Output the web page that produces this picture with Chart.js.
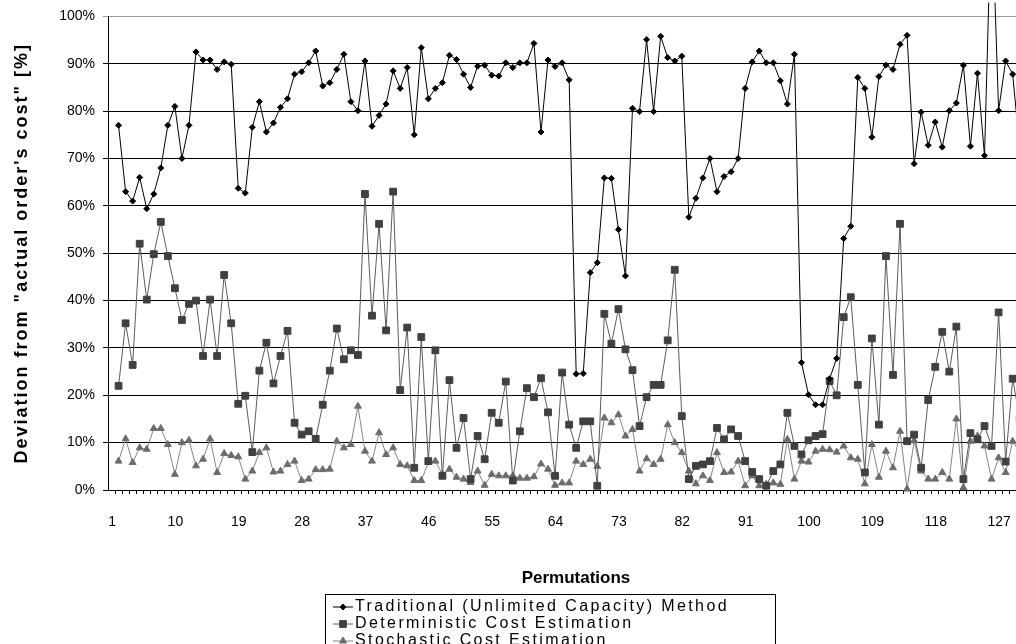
<!DOCTYPE html>
<html>
<head>
<meta charset="utf-8">
<title>Deviation from actual order's cost</title>
<script src="https://cdn.jsdelivr.net/npm/chart.js@4.4.1/dist/chart.umd.min.js"></script>
<style>
  html, body { margin: 0; padding: 0; background: #fff; overflow: hidden; width: 1016px; height: 644px; }
  #chart { display: block; }
</style>
</head>
<body>
<!-- the plot runs on past the right edge of the page -->
<canvas id="chart" width="1022" height="644"></canvas>
<script>
// permutation number of every point
const permutations = Array.from({ length: 129 }, (_, i) => i + 1);
const xTickLabels = [1, 10, 19, 28, 37, 46, 55, 64, 73, 82, 91, 100, 109, 118, 127];
const yTickValues = [0, 10, 20, 30, 40, 50, 60, 70, 80, 90, 100];

const seriesNames = [
  'Traditional (Unlimited Capacity) Method',
  'Deterministic Cost Estimation',
  'Stochastic Cost Estimation'
];

// deviation in % per permutation
const traditional = [
  77, 63, 61, 66, 59.4, 62.5, 68, 77, 81, 70,
  77, 92.5, 90.8, 90.8, 88.8, 90.4, 89.9, 63.7, 62.7, 76.6,
  82, 75.6, 77.5, 80.8, 82.6, 87.8, 88.3, 90.2, 92.7, 85.3,
  86, 88.8, 92, 82, 80.1, 90.6, 76.8, 79.1, 81.5, 88.5,
  84.8, 89.2, 75, 93.4, 82.6, 84.8, 86, 91.8, 90.9, 87.8,
  85, 89.5, 89.7, 87.6, 87.4, 90.2, 89.2, 90.2, 90.2, 94.3,
  75.6, 90.8, 89.4, 90.2, 86.6, 24.5, 24.6, 45.9, 48, 65.9,
  65.8, 55, 45.2, 80.6, 79.9, 95.1, 79.9, 95.8, 91.3, 90.6,
  91.6, 57.6, 61.6, 65.9, 70, 63, 66.2, 67.2, 70, 84.8,
  90.4, 92.7, 90.2, 90.2, 86.4, 81.5, 92, 26.9, 20.1, 18,
  18, 23.5, 27.8, 53.1, 55.7, 87.1, 84.8, 74.5, 87.3, 89.7,
  88.8, 94.1, 96, 68.9, 79.8, 72.8, 77.7, 72.4, 80.1, 81.7,
  89.7, 72.6, 88, 70.6, 125, 80.1, 90.6, 87.8, 72
];

const deterministic = [
  22, 35.2, 26.4, 52, 40.2, 49.8, 56.6, 49.4, 42.6, 35.9,
  39.3, 40, 28.3, 40.2, 28.3, 45.4, 35.2, 18.2, 19.9, 8,
  25.2, 31.1, 22.5, 28.3, 33.6, 14.2, 11.7, 12.4, 10.8, 18,
  25.2, 34.1, 27.6, 29.5, 28.5, 62.5, 36.8, 56.2, 33.7, 63,
  21.1, 34.3, 4.7, 32.3, 6.1, 29.5, 3, 23.2, 8.9, 15.2,
  2.3, 11.4, 6.5, 16.3, 14.2, 22.9, 2, 12.4, 21.5, 19.6,
  23.6, 16.4, 3, 24.8, 13.8, 8.9, 14.5, 14.5, 0.9, 37.2,
  30.9, 38.2, 29.7, 25.3, 13.5, 19.6, 22.2, 22.2, 31.6, 46.5,
  15.6, 2.3, 5.1, 5.4, 6.1, 13.1, 10.7, 12.8, 11.4, 6.1,
  3.8, 2.3, 0.9, 4, 5.4, 16.3, 9.3, 7.5, 10.5, 11.4,
  11.8, 23, 20, 36.5, 40.7, 22.2, 3.7, 32, 13.8, 49.4,
  24.3, 56.2, 10.3, 11.7, 4.7, 19, 26, 33.4, 25, 34.5,
  2.3, 12, 10.7, 13.5, 9.3, 37.5, 6, 23.5, 15
];

const stochastic = [
  6.1, 10.8, 5.8, 8.9, 8.6, 13, 13, 9.6, 3.3, 10,
  10.5, 5.1, 6.5, 10.8, 3.7, 7.7, 7.3, 7, 2.3, 4,
  7.9, 8.9, 3.8, 4, 5.4, 6.1, 2, 2.3, 4.3, 4.3,
  4.4, 10.3, 8.9, 9.6, 17.7, 8.2, 6.1, 12.1, 7.5, 8.9,
  5.4, 5.1, 2, 2, 5.8, 6.1, 3.3, 4.4, 2.7, 2.3,
  1.6, 4, 1, 3.3, 3, 3, 3, 2.5, 2.5, 2.8,
  5.5, 4.4, 1, 1.5, 1.5, 6.1, 5.4, 6.5, 5, 15.2,
  14.2, 15.9, 11.4, 12.8, 4, 6.6, 5.4, 6.5, 13.8, 10,
  7.9, 4, 1.3, 3, 2, 7.9, 3.7, 3.8, 6.1, 0.9,
  3, 0.9, 1.2, 1.5, 1.2, 10.7, 2.3, 6.1, 5.9, 8.2,
  8.6, 8.5, 8, 9.3, 6.8, 6.5, 1.3, 9.6, 2.7, 8.2,
  4.7, 12.4, 0.2, 10.4, 4, 2.3, 2.3, 3.7, 2.3, 15,
  0.5, 10.3, 11.4, 9.3, 2.3, 6.8, 3.7, 10.3, 8
];

const xTitle = 'Permutations';
const yTitle = 'Deviation from "actual order\'s cost" [%]';

const FONT = '"Liberation Sans", Arial, sans-serif';
Chart.defaults.font.family = FONT;
Chart.defaults.color = '#000';

function points(values) {
  return values.map((v, i) => ({ x: permutations[i], y: v }));
}

// axis titles and the boxed legend under the plot
const titlesAndLegend = {
  id: 'titlesAndLegend',
  afterDraw(chart) {
    const { ctx, chartArea } = chart;
    ctx.save();
    ctx.fillStyle = '#000';
    ctx.textBaseline = 'middle';
    ctx.textAlign = 'center';

    ctx.font = 'bold 17px ' + FONT;
    ctx.letterSpacing = '0px';
    ctx.fillText(xTitle, 576, 578);

    ctx.save();
    ctx.translate(22, (chartArea.top + chartArea.bottom) / 2);
    ctx.rotate(-Math.PI / 2);
    ctx.font = 'bold 18px ' + FONT;
    ctx.letterSpacing = '2px';
    ctx.fillText(yTitle, 0, 0);
    ctx.restore();

    ctx.strokeStyle = '#000';
    ctx.lineWidth = 1;
    ctx.strokeRect(325.5, 594.5, 450, 70);

    ctx.font = '16px ' + FONT;
    ctx.letterSpacing = '2.4px';
    ctx.textAlign = 'left';
    chart.data.datasets.forEach((ds, i) => {
      const y = 607 + i * 17;
      ctx.strokeStyle = ds.borderColor;
      ctx.lineWidth = 1;
      ctx.beginPath();
      ctx.moveTo(333, y);
      ctx.lineTo(353, y);
      ctx.stroke();
      ctx.fillStyle = ds.pointBackgroundColor;
      ctx.strokeStyle = ds.pointBorderColor;
      Chart.helpers.drawPoint(ctx, {
        pointStyle: ds.pointStyle,
        radius: ds.pointRadius,
        borderWidth: ds.pointBorderWidth,
        rotation: 0
      }, 343, y);
      ctx.fillStyle = '#000';
      ctx.fillText(ds.label, 355, y);
    });
    ctx.restore();
  }
};

const lineClip = { left: 0, top: 14, right: 0, bottom: 6 };

new Chart(document.getElementById('chart'), {
  type: 'line',
  data: {
    datasets: [
      {
        label: seriesNames[0],
        data: points(traditional),
        borderColor: '#000000',
        borderWidth: 1,
        pointStyle: 'rectRot',
        pointRadius: 3,
        pointBorderWidth: 1,
        pointBackgroundColor: '#000000',
        pointBorderColor: '#000000',
        tension: 0,
        clip: lineClip
      },
      {
        label: seriesNames[1],
        data: points(deterministic),
        borderColor: '#5c5c5c',
        borderWidth: 1,
        pointStyle: 'rect',
        pointRadius: 4.8,
        pointBorderWidth: 1,
        pointBackgroundColor: '#404040',
        pointBorderColor: '#404040',
        tension: 0,
        clip: lineClip
      },
      {
        label: seriesNames[2],
        data: points(stochastic),
        borderColor: '#858585',
        borderWidth: 1,
        pointStyle: 'triangle',
        pointRadius: 4,
        pointBorderWidth: 1,
        pointBackgroundColor: '#6c6c6c',
        pointBorderColor: '#6c6c6c',
        tension: 0,
        clip: lineClip
      }
    ]
  },
  options: {
    responsive: false,
    animation: false,
    layout: { padding: { top: 14, left: 0, right: 0, bottom: 0 } },
    plugins: {
      legend: { display: false },
      tooltip: { enabled: false }
    },
    scales: {
      x: {
        type: 'linear',
        bounds: 'data',
        min: -0.5,
        max: 128.5,
        afterBuildTicks: (scale) => {
          // one tick mark between neighbouring permutations
          scale.ticks = permutations.map(p => ({ value: p - 0.5 }));
        },
        afterFit: (scale) => {
          scale.height = 154;
          scale.paddingLeft = 0;
          scale.paddingRight = 0;
        },
        ticks: {
          autoSkip: false,
          maxRotation: 0,
          minRotation: 0,
          padding: 20,
          labelOffset: -3,
          font: { size: 14 },
          callback: (value) => {
            const p = value + 0.5;
            return xTickLabels.includes(p) ? String(p) : '';
          }
        },
        grid: { drawOnChartArea: false, drawTicks: true, tickLength: 4, color: '#000' },
        border: { display: true, color: '#000', width: 1 }
      },
      y: {
        min: 0,
        max: 100,
        afterBuildTicks: (scale) => {
          scale.ticks = yTickValues.map(v => ({ value: v }));
        },
        afterFit: (scale) => { scale.width = 108; },
        ticks: {
          padding: 8,
          font: { size: 14 },
          callback: (value) => value + '%'
        },
        grid: {
          color: (ctx) => (ctx.tick && ctx.tick.value === 100 ? '#9a9a9a' : '#000'),
          tickLength: 5,
          drawTicks: true
        },
        border: { display: true, color: '#000', width: 1 }
      }
    }
  },
  plugins: [titlesAndLegend]
});
</script>
</body>
</html>
